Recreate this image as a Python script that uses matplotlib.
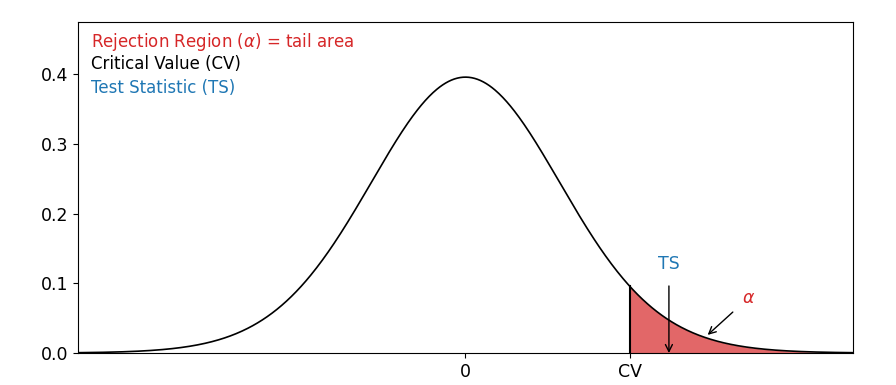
import math
import numpy as np
from matplotlib import pyplot as plt

# t distribution parameters
df = 30
xRange = [-4, 4]
cv = 1.697   # critical value (one-sided 5%)
ts = 2.1     # test statistic
xTickPos = [0, cv]
xTickLabels = ["0", "CV"]
legendLines = ["Rejection Region ($\\alpha$) = tail area", "Critical Value (CV)", "Test Statistic (TS)"]
legendColors = ["tab:red", "black", "tab:blue"]

def tpdf(x, nu):
    c = math.gamma((nu + 1) / 2.0) / (math.sqrt(nu * math.pi) * math.gamma(nu / 2.0))
    return c * (1 + x ** 2 / nu) ** (-(nu + 1) / 2.0)

x = np.linspace(xRange[0], xRange[1], 800)
y = tpdf(x, df)

fig = plt.figure(figsize=(8.96, 3.85), dpi=100)
ax = fig.add_axes([0.087, 0.083, 0.865, 0.86])

ax.plot(x, y, color='black', linewidth=1.2)
tail = x >= cv
ax.fill_between(x[tail], 0, y[tail], color='tab:red', alpha=0.7, linewidth=0)
ax.plot([cv, cv], [0, tpdf(cv, df)], color='black', linewidth=1.5)

ax.annotate("TS", xy=(ts, 0), xytext=(ts, 0.127), color='tab:blue', fontsize=12.5,
            ha='center', va='center',
            arrowprops=dict(arrowstyle='->', color='black', lw=1, shrinkA=7, shrinkB=0))
ax.annotate("$\\alpha$", xy=(2.5, 0.026), xytext=(2.92, 0.079), color='tab:red', fontsize=12.5,
            ha='center', va='center',
            arrowprops=dict(arrowstyle='->', color='black', lw=1, shrinkA=6, shrinkB=0))

ys = [0.94, 0.872, 0.80]
for i in range(len(legendLines)):
    ax.text(0.017, ys[i], legendLines[i], color=legendColors[i], fontsize=12,
            transform=ax.transAxes, ha='left', va='center')

ax.set_xlim(xRange)
ax.set_ylim(0, y.max() * 1.2)
ax.set_xticks(xTickPos)
ax.set_xticklabels(xTickLabels)
ax.set_yticks(np.arange(0, 0.45, 0.1))
ax.tick_params(axis='both', labelsize=12.5)

plt.savefig("out.png", dpi=100)
